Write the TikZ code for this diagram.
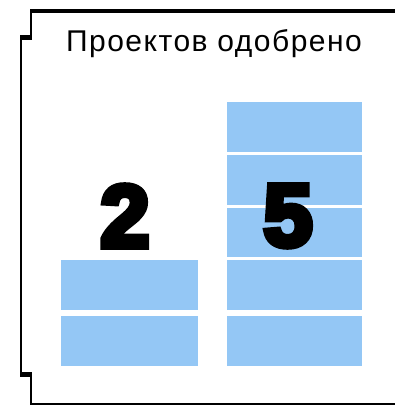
\documentclass[tikz,border=0pt]{standalone}
\usepackage{fontspec}
\setmainfont{Liberation Sans}
\newfontfamily\countfont[FakeBold=7]{Liberation Sans Bold}
\definecolor{barblue}{RGB}{148,199,245}

\begin{document}
\begin{tikzpicture}[x=1pt,y=-1pt,
    bar/.style={fill=barblue,draw=white,line width=0.8pt},
    title/.style={font={\addfontfeature{LetterSpace=5}\fontsize{30}{32}\selectfont}},
    count/.style={font={\countfont\fontsize{88}{90}\selectfont}}]
\useasboundingbox (0,0) rectangle (394,406);

% frame
\draw[line width=4pt] (30,11)--(400,11);
\draw[line width=2pt] (31,10)--(31,38);
\draw[line width=5pt] (20,37.5)--(32,37.5);
\draw[line width=2pt] (21,36)--(21,376);
\draw[line width=5pt] (20,374.5)--(32,374.5);
\draw[line width=2pt] (31,373)--(31,405);
\draw[line width=2pt] (30,404)--(400,404);

\node[title] (head) at (214,44) {Проектов одобрено};

% left column
\fill[bar] (60,315) rectangle (198,366);
\fill[bar] (60,259) rectangle (198,310);
\node[count] (left) at (125,216) {2};

% right column
\fill[bar] (226,315) rectangle (362,366);
\fill[bar] (226,259) rectangle (362,310);
\fill[bar] (226,207) rectangle (362,257.5);
\fill[bar] (226,154) rectangle (362,205.5);
\fill[bar] (226,101) rectangle (362,152.5);
\node[count] (right) at (288,216) {5};

\end{tikzpicture}
\end{document}
